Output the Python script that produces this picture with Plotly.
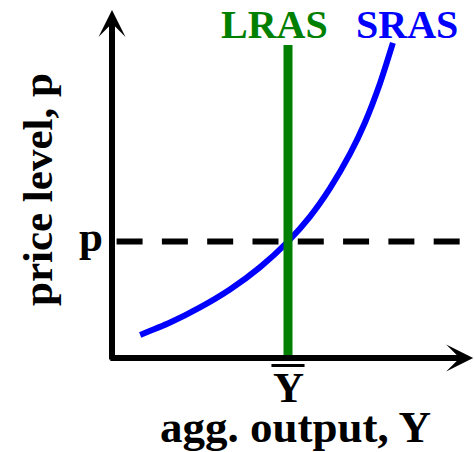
import plotly.graph_objects as go

# ---- data (economic units) ----
sras_x = [0.80, 1.65, 2.50, 3.35, 4.20, 5.00, 5.63, 6.19, 6.76, 7.19, 7.61, 7.98]
sras_y = [0.99, 1.52, 2.17, 2.94, 3.89, 5.00, 6.08, 7.28, 8.76, 10.12, 11.77, 13.52]
ybar = 5.0          # potential output (LRAS position)
p_eq = 5.0          # equilibrium price level
lras_top = 13.43
dash_start = 0.13
dash_end = 9.915
x_axis_max = 10.26
y_axis_max = 14.94

W, H = 474, 452
# pixel mapping (origin at pixel 112, 358)
X0PX, Y0PX, SX, SY = 112.0, 358.0, 35.2, 23.3
xr = [-X0PX / SX, (W - X0PX) / SX]
yr = [-(H - Y0PX) / SY, Y0PX / SY]

def px(xp):
    return xp / W

def py(yp):
    return 1 - yp / H

SERIF = "Liberation Serif"

fig = go.Figure()

# dashed price line
fig.add_trace(go.Scatter(x=[dash_start, dash_end], y=[p_eq, p_eq], mode="lines",
                         line=dict(color="black", width=6, dash="26px,19.3px"),
                         hoverinfo="skip", showlegend=False))
# SRAS
fig.add_trace(go.Scatter(x=sras_x, y=sras_y, mode="lines",
                         line=dict(color="#0000ff", width=6, shape="spline", smoothing=0.8),
                         hoverinfo="skip", showlegend=False))
# LRAS
fig.add_trace(go.Scatter(x=[ybar, ybar], y=[0, lras_top], mode="lines",
                         line=dict(color="#008000", width=9),
                         hoverinfo="skip", showlegend=False))

annotations = []
# axes arrows
annotations.append(dict(x=x_axis_max, y=0, ax=-0.09, ay=0, xref="x", yref="y",
                        axref="x", ayref="y", text="", showarrow=True,
                        arrowhead=3, arrowsize=0.75, arrowwidth=6, arrowcolor="black"))
annotations.append(dict(x=0, y=y_axis_max, ax=0, ay=-0.13, xref="x", yref="y",
                        axref="x", ayref="y", text="", showarrow=True,
                        arrowhead=3, arrowsize=0.75, arrowwidth=6, arrowcolor="black"))

def label(text, xp, yp, size, color="black", angle=0):
    annotations.append(dict(x=px(xp), y=py(yp), xref="paper", yref="paper",
                            text=text, showarrow=False, xanchor="center", yanchor="middle",
                            textangle=angle,
                            font=dict(family=SERIF, size=size, color=color, weight="bold")))

label("LRAS", 274, 24.5, 40, "#008000")
label("SRAS", 407, 24.5, 40, "#0000ff")
label("agg. output, Y", 295, 427, 45)
label("Y", 288, 387.5, 43)
label("p", 91, 236, 43)
label("price level, p", 37, 190, 43, angle=-90)

# overline bar on Y-bar label
fig.add_shape(type="line", xref="x", yref="paper", x0=ybar - 0.47, x1=ybar + 0.47,
              y0=py(365.5), y1=py(365.5), line=dict(color="black", width=3))

fig.update_layout(
    width=W, height=H, margin=dict(l=0, r=0, t=0, b=0),
    paper_bgcolor="white", plot_bgcolor="white",
    xaxis=dict(range=xr, visible=False, fixedrange=True),
    yaxis=dict(range=yr, visible=False, fixedrange=True),
    annotations=annotations, showlegend=False,
)

fig.write_html("out.html", config={"displayModeBar": False})

# remove default page margin so the figure sits at the window's corner
with open("out.html", "r", encoding="utf-8") as f:
    html = f.read()
html = html.replace("<body>", '<body style="margin:0;padding:0;overflow:hidden">', 1)
with open("out.html", "w", encoding="utf-8") as f:
    f.write(html)
